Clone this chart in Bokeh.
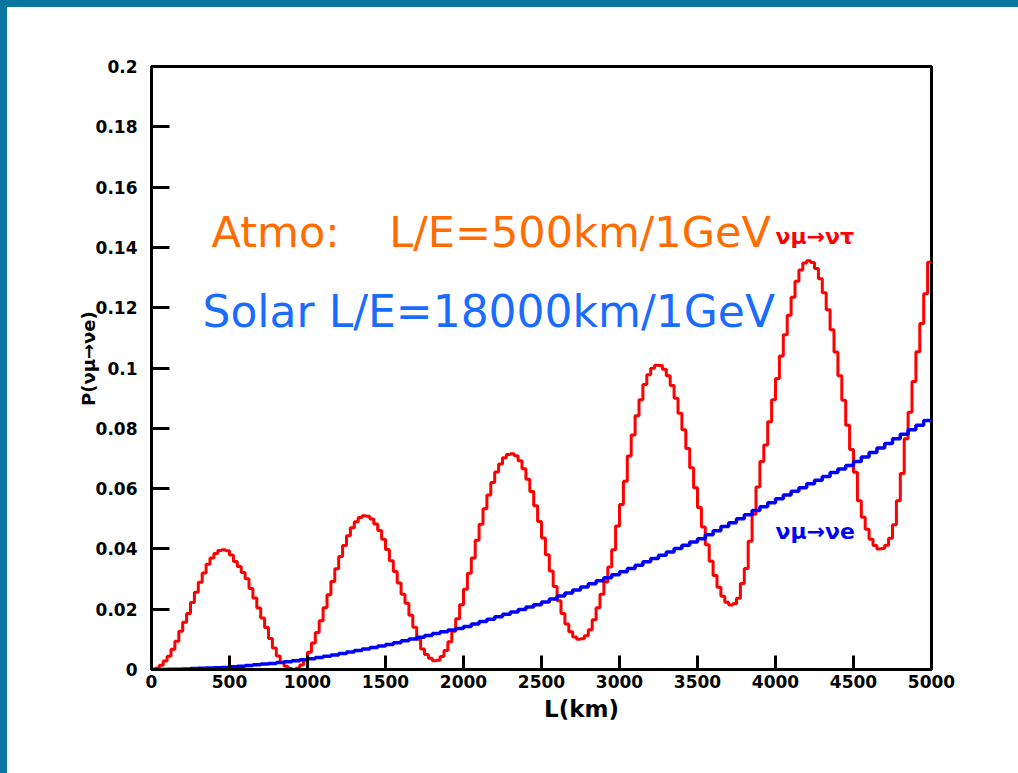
import numpy as np
from bokeh.plotting import figure
from bokeh.models import Label, FixedTicker
from bokeh.embed import file_html
from bokeh.resources import INLINE

# ---- data ----
red_bin_width = 25.0
red_prob = [
    0.0000, 0.0004, 0.0014, 0.0028, 0.0044, 0.0067, 0.0094, 0.0127, 0.0157, 0.0186,
    0.0222, 0.0256, 0.0289, 0.0320, 0.0349, 0.0370, 0.0385, 0.0395, 0.0397, 0.0394,
    0.0380, 0.0358, 0.0342, 0.0322, 0.0301, 0.0269, 0.0237, 0.0204, 0.0171, 0.0139,
    0.0103, 0.0071, 0.0045, 0.0024, 0.0011, 0.0003, 0.0000, 0.0004, 0.0015, 0.0033,
    0.0057, 0.0088, 0.0123, 0.0162, 0.0205, 0.0248, 0.0292, 0.0334, 0.0375, 0.0411,
    0.0444, 0.0470, 0.0490, 0.0504, 0.0510, 0.0508, 0.0499, 0.0483, 0.0461, 0.0432,
    0.0398, 0.0361, 0.0325, 0.0287, 0.0250, 0.0220, 0.0180, 0.0140, 0.0100, 0.0068,
    0.0050, 0.0037, 0.0029, 0.0031, 0.0043, 0.0063, 0.0092, 0.0127, 0.0168, 0.0215,
    0.0266, 0.0319, 0.0370, 0.0429, 0.0482, 0.0533, 0.0579, 0.0620, 0.0655, 0.0682,
    0.0702, 0.0713, 0.0716, 0.0709, 0.0692, 0.0666, 0.0631, 0.0590, 0.0543, 0.0491,
    0.0436, 0.0381, 0.0327, 0.0275, 0.0228, 0.0186, 0.0151, 0.0125, 0.0108, 0.0100,
    0.0102, 0.0112, 0.0132, 0.0165, 0.0205, 0.0250, 0.0290, 0.0340, 0.0397, 0.0476,
    0.0547, 0.0624, 0.0708, 0.0778, 0.0842, 0.0895, 0.0945, 0.0978, 0.0999, 0.1009,
    0.1008, 0.0996, 0.0974, 0.0942, 0.0900, 0.0850, 0.0795, 0.0733, 0.0669, 0.0603,
    0.0537, 0.0473, 0.0414, 0.0359, 0.0312, 0.0273, 0.0243, 0.0223, 0.0214, 0.0218,
    0.0236, 0.0285, 0.0335, 0.0425, 0.0515, 0.0605, 0.0690, 0.0745, 0.0822, 0.0895,
    0.0965, 0.1040, 0.1110, 0.1175, 0.1235, 0.1288, 0.1325, 0.1348, 0.1356, 0.1350,
    0.1330, 0.1296, 0.1250, 0.1193, 0.1127, 0.1053, 0.0974, 0.0893, 0.0810, 0.0730,
    0.0654, 0.0560, 0.0505, 0.0465, 0.0432, 0.0411, 0.0400, 0.0401, 0.0412, 0.0435,
    0.0480, 0.0560, 0.0650, 0.0765, 0.0853, 0.0955, 0.1054, 0.1148, 0.1246, 0.1351,
]

blue_bin_width = 50.0
blue_prob = [
    0.0000, 0.0000, 0.0001, 0.0001, 0.0002, 0.0003, 0.0004, 0.0005, 0.0006, 0.0007,
    0.0009, 0.0011, 0.0013, 0.0016, 0.0018, 0.0020, 0.0023, 0.0026, 0.0029, 0.0032,
    0.0036, 0.0040, 0.0044, 0.0048, 0.0053, 0.0058, 0.0063, 0.0068, 0.0073, 0.0078,
    0.0083, 0.0089, 0.0095, 0.0101, 0.0107, 0.0113, 0.0119, 0.0125, 0.0131, 0.0136,
    0.0143, 0.0151, 0.0159, 0.0167, 0.0175, 0.0183, 0.0191, 0.0199, 0.0207, 0.0215,
    0.0224, 0.0234, 0.0244, 0.0254, 0.0264, 0.0274, 0.0284, 0.0294, 0.0304, 0.0314,
    0.0324, 0.0335, 0.0346, 0.0357, 0.0368, 0.0379, 0.0390, 0.0401, 0.0412, 0.0423,
    0.0434, 0.0447, 0.0460, 0.0474, 0.0487, 0.0500, 0.0513, 0.0527, 0.0540, 0.0553,
    0.0566, 0.0579, 0.0591, 0.0603, 0.0616, 0.0628, 0.0640, 0.0653, 0.0665, 0.0677,
    0.0690, 0.0705, 0.0720, 0.0735, 0.0750, 0.0765, 0.0780, 0.0795, 0.0810, 0.0826,
]

x_ticks = [0, 500, 1000, 1500, 2000, 2500, 3000, 3500, 4000, 4500, 5000]
x_tick_labels = ["0", "500", "1000", "1500", "2000", "2500", "3000", "3500", "4000", "4500", "5000"]
y_ticks = [0, 0.02, 0.04, 0.06, 0.08, 0.1, 0.12, 0.14, 0.16, 0.18, 0.2]
y_tick_labels = ["0", "0.02", "0.04", "0.06", "0.08", "0.1", "0.12", "0.14", "0.16", "0.18", "0.2"]

x_title = "L(km)"
y_title = "P(νμ→νe)"
atmo_text = "Atmo:\u00a0\u00a0\u00a0\u2009L/E=500km/1GeV"
solar_text = "Solar L/E=18000km/1GeV"
red_tag = "νμ→ντ"
blue_tag = "νμ→νe"

NB = "\u00a0"

# ---- figure ----
p = figure(frame_width=780, frame_height=603, x_range=(0, 5000), y_range=(0, 0.2),
           output_backend="svg", toolbar_location=None, tools="")
p.min_border_left = 151
p.min_border_right = 87
p.min_border_top = 66
p.min_border_bottom = 104
p.background_fill_color = "white"
p.border_fill_color = None
p.grid.visible = False
p.outline_line_color = "black"
p.outline_line_width = 3

try:
    from bokeh.models import GlobalInlineStyleSheet
    css = ("html, body { background: linear-gradient(#0b75a1,#0b75a1) left top / 100% 7px no-repeat,"
           " linear-gradient(#0b75a1,#0b75a1) left top / 7px 100% no-repeat, #ffffff; overflow: hidden; }")
    p.stylesheets = [GlobalInlineStyleSheet(css=css)]
except Exception:
    pass

for ax in (p.xaxis[0], p.yaxis[0]):
    ax.axis_line_width = 3
    ax.major_tick_line_width = 3
    ax.major_tick_out = 0
    ax.minor_tick_line_color = None
    ax.major_label_text_font = "DejaVu Sans"
    ax.major_label_text_font_style = "bold"
    ax.major_label_text_font_size = "17px"
    ax.major_label_text_color = "black"
    ax.axis_label_text_font = "DejaVu Sans"
    ax.axis_label_text_font_style = "bold"
    ax.axis_label_text_color = "black"

p.xaxis.ticker = FixedTicker(ticks=x_ticks)
p.xaxis.major_label_overrides = {t: s for t, s in zip(x_ticks, x_tick_labels)}
p.xaxis.major_tick_in = 14
p.xaxis.major_label_standoff = 5
p.xaxis.axis_label = NB * 10 + x_title
p.xaxis.axis_label_text_font_size = "23px"
p.xaxis.axis_label_standoff = 5

p.yaxis.ticker = FixedTicker(ticks=y_ticks)
p.yaxis.major_label_overrides = {t: s for t, s in zip(y_ticks, y_tick_labels)}
p.yaxis.major_tick_in = 18
p.yaxis.major_label_standoff = 14
p.yaxis.axis_label = NB * 3 + y_title
p.yaxis.axis_label_text_font_size = "18px"
p.yaxis.axis_label_standoff = -6

# histogram-style steps
red_edges = np.arange(len(red_prob) + 1) * red_bin_width
red_y = list(red_prob) + [red_prob[-1]]
p.step(red_edges, red_y, mode="after", line_color="#ff0000", line_width=3)

blue_edges = np.arange(len(blue_prob) + 1) * blue_bin_width
blue_y = list(blue_prob) + [blue_prob[-1]]
p.step(blue_edges, blue_y, mode="after", line_color="#0000ff", line_width=3.5)

# text
p.add_layout(Label(x=385, y=0.1452, text=atmo_text, text_font="DejaVu Sans",
                   text_font_size="43px", text_color="#ff6c00", text_baseline="alphabetic"))
p.add_layout(Label(x=327, y=0.1187, text=solar_text, text_font="DejaVu Sans",
                   text_font_size="44px", text_color="#1a6cff", text_baseline="alphabetic"))
p.add_layout(Label(x=4000, y=0.1435, text=red_tag, text_font="DejaVu Sans",
                   text_font_style="bold", text_font_size="22px", text_color="#ff0000",
                   text_baseline="middle"))
p.add_layout(Label(x=4000, y=0.0458, text=blue_tag, text_font="DejaVu Sans",
                   text_font_style="bold", text_font_size="22px", text_color="#0000ff",
                   text_baseline="middle"))

open("out.html", "w").write(file_html(p, INLINE))
